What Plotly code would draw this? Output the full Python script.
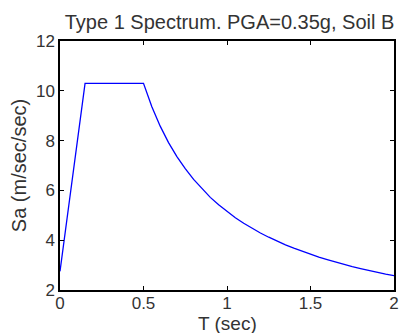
import plotly.graph_objects as go

T = [0.0, 0.15, 0.5, 0.55, 0.6, 0.65, 0.7, 0.75, 0.8, 0.85, 0.9, 0.95, 1.0, 1.05, 1.1,
     1.15, 1.2, 1.25, 1.3, 1.35, 1.4, 1.45, 1.5, 1.55, 1.6, 1.65, 1.7, 1.75, 1.8, 1.85,
     1.9, 1.95, 2.0]
Sa = [2.75, 10.30, 10.30, 9.36, 8.58, 7.92, 7.36, 6.87, 6.44, 6.06, 5.72, 5.42, 5.15,
      4.90, 4.68, 4.48, 4.29, 4.12, 3.96, 3.81, 3.68, 3.55, 3.43, 3.32, 3.22, 3.12,
      3.03, 2.94, 2.86, 2.78, 2.71, 2.64, 2.58]
xticks = [0, 0.5, 1, 1.5, 2]
xticklabels = ["0", "0.5", "1", "1.5", "2"]
yticks = [2, 4, 6, 8, 10, 12]

font = "Liberation Sans, Arial, sans-serif"
txt = "#333333"
fig = go.Figure()
fig.add_trace(go.Scatter(x=T, y=Sa, mode="lines", line=dict(color="#0000ff", width=1.3),
                         showlegend=False))
axis_common = dict(showline=True, linecolor="black", linewidth=1.5, mirror="ticks",
                   ticks="inside", ticklen=4, tickwidth=1, tickcolor="black",
                   showgrid=False, zeroline=False,
                   tickfont=dict(family=font, size=17, color=txt))
fig.update_xaxes(range=[0, 2], tickvals=xticks, ticktext=xticklabels,
                 ticklabelstandoff=-3, **axis_common)
fig.update_yaxes(range=[2, 12], tickvals=yticks,
                 title=dict(text="Sa (m/sec/sec)", font=dict(family=font, size=20, color=txt), standoff=4),
                 **axis_common)
fig.add_annotation(text="T (sec)", xref="paper", yref="paper", x=0.5, y=-0.135,
                   xanchor="center", yanchor="middle", showarrow=False,
                   font=dict(family=font, size=19, color=txt))
fig.update_layout(width=402, height=333, margin=dict(l=60, r=3, t=41, b=43),
                  paper_bgcolor="white", plot_bgcolor="white",
                  title=dict(text="Type 1 Spectrum. PGA=0.35g, Soil B", x=0.571, xanchor="center",
                             y=0.935, yanchor="middle",
                             font=dict(family=font, size=20, color=txt)))
fig.write_html("out.html")
